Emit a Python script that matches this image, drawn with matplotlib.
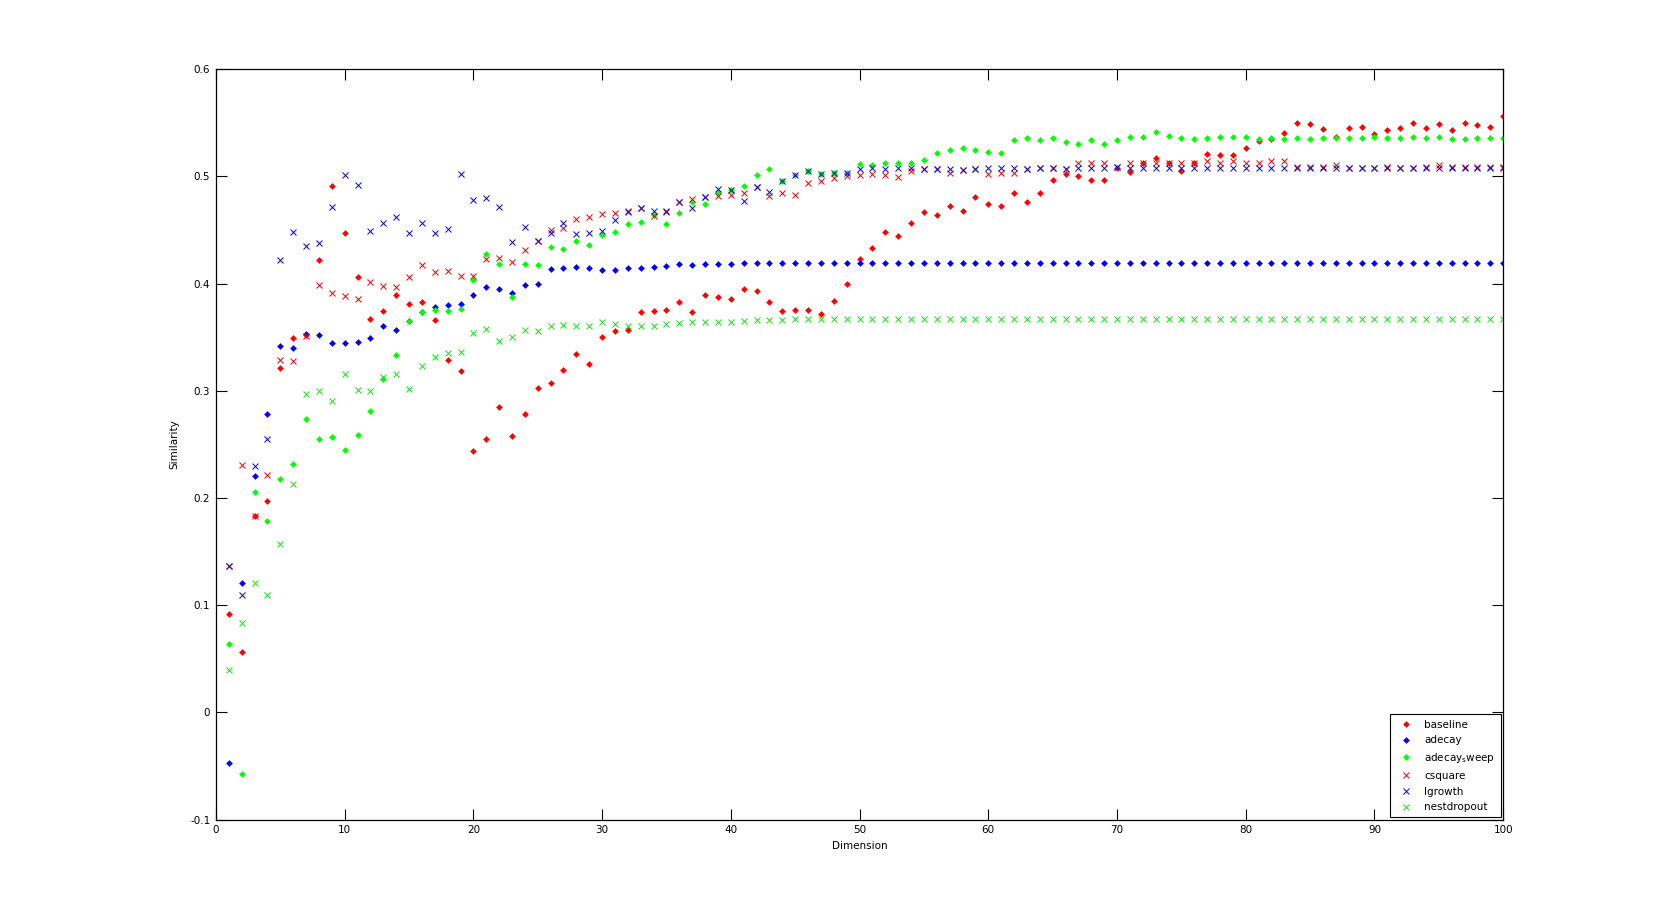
import matplotlib
matplotlib.use("Agg")
import matplotlib.pyplot as plt

dims = list(range(1, 101))

baseline = [0.092, 0.056, 0.183, 0.197, 0.3215, 0.349, 0.352, 0.422, 0.491, 0.447,
            0.406, 0.367, 0.374, 0.389, 0.381, 0.383, 0.366, 0.329, 0.318, 0.244,
            0.255, 0.285, 0.258, 0.278, 0.303, 0.307, 0.319, 0.334, 0.325, 0.350,
            0.356, 0.357, 0.373, 0.374, 0.375, 0.383, 0.373, 0.389, 0.387, 0.386,
            0.395, 0.393, 0.383, 0.374, 0.375, 0.375, 0.372, 0.384, 0.400, 0.423,
            0.433, 0.448, 0.444, 0.456, 0.467, 0.464, 0.472, 0.468, 0.481, 0.474,
            0.472, 0.484, 0.476, 0.484, 0.497, 0.502, 0.500, 0.497, 0.497, 0.508,
            0.504, 0.512, 0.517, 0.512, 0.505, 0.512, 0.521, 0.520, 0.520, 0.526,
            0.533, 0.535, 0.540, 0.550, 0.549, 0.544, 0.537, 0.545, 0.546, 0.539,
            0.543, 0.545, 0.550, 0.545, 0.549, 0.543, 0.550, 0.548, 0.546, 0.556]

adecay = [-0.047, 0.1205, 0.2206, 0.278, 0.342, 0.340, 0.353, 0.352, 0.345, 0.345,
          0.3455, 0.349, 0.3605, 0.357, 0.365, 0.373, 0.378, 0.380, 0.381, 0.3895,
          0.397, 0.395, 0.3914, 0.399, 0.400, 0.4138, 0.4148, 0.4157, 0.4148, 0.4129,
          0.4129, 0.4148, 0.4148, 0.4157, 0.4166, 0.4185, 0.4175, 0.4185, 0.4185, 0.4185,
          0.4194, 0.4194, 0.4194, 0.4194, 0.4194, 0.4194, 0.4194, 0.4194, 0.4194, 0.4194,
          0.4194, 0.4194, 0.4194, 0.4194, 0.4194, 0.4194, 0.4194, 0.4194, 0.4194, 0.4194,
          0.4194, 0.4194, 0.4194, 0.4194, 0.4194, 0.4194, 0.4194, 0.4194, 0.4194, 0.4194,
          0.4194, 0.4194, 0.4194, 0.4194, 0.4194, 0.4194, 0.4194, 0.4194, 0.4194, 0.4194,
          0.4194, 0.4194, 0.4194, 0.4194, 0.4194, 0.4194, 0.4194, 0.4194, 0.4194, 0.4194,
          0.4194, 0.4194, 0.4194, 0.4194, 0.4194, 0.4194, 0.4194, 0.4194, 0.4194, 0.4194]

adecay_sweep = [0.064, -0.057, 0.2056, 0.179, 0.218, 0.232, 0.2735, 0.255, 0.257, 0.245,
                0.259, 0.281, 0.311, 0.333, 0.3655, 0.373, 0.3755, 0.3746, 0.3764, 0.4036,
                0.428, 0.4185, 0.3877, 0.4185, 0.4176, 0.4344, 0.4326, 0.440, 0.4363, 0.4457,
                0.4485, 0.4559, 0.4578, 0.4643, 0.4559, 0.4662, 0.4765, 0.4746, 0.484, 0.4868,
                0.4914, 0.5008, 0.5064, 0.4952, 0.5008, 0.5045, 0.5017, 0.5027, 0.5027, 0.5111,
                0.5101, 0.512, 0.512, 0.512, 0.5149, 0.5214, 0.5242, 0.5261, 0.5242, 0.5223,
                0.5214, 0.5336, 0.5354, 0.5336, 0.5354, 0.5317, 0.5298, 0.5336, 0.5298, 0.5335,
                0.5363, 0.5363, 0.541, 0.5373, 0.5354, 0.5345, 0.5354, 0.5363, 0.5363, 0.5363,
                0.5345, 0.5354, 0.5345, 0.5354, 0.5345, 0.5354, 0.5354, 0.5354, 0.5354, 0.5363,
                0.5354, 0.5354, 0.5363, 0.5354, 0.5363, 0.5345, 0.5345, 0.5354, 0.5354, 0.5354]

csquare = [0.137, 0.231, 0.183, 0.2215, 0.329, 0.328, 0.351, 0.399, 0.391, 0.388,
           0.386, 0.401, 0.398, 0.397, 0.406, 0.4176, 0.411, 0.412, 0.4067, 0.4067,
           0.4232, 0.4241, 0.4204, 0.4316, 0.440, 0.4503, 0.4522, 0.4606, 0.4625, 0.4644,
           0.4662, 0.468, 0.470, 0.4634, 0.467, 0.4765, 0.4793, 0.481, 0.482, 0.483,
           0.484, 0.4896, 0.482, 0.484, 0.483, 0.4933, 0.4952, 0.498, 0.4999, 0.5008,
           0.5017, 0.5008, 0.499, 0.5046, 0.5064, 0.5064, 0.5027, 0.5055, 0.5064, 0.5018,
           0.5027, 0.5027, 0.5064, 0.5074, 0.5074, 0.5064, 0.512, 0.512, 0.512, 0.5083,
           0.512, 0.512, 0.512, 0.512, 0.512, 0.512, 0.514, 0.512, 0.514, 0.512,
           0.512, 0.514, 0.514, 0.509, 0.509, 0.509, 0.5101, 0.508, 0.508, 0.508,
           0.509, 0.508, 0.508, 0.509, 0.5101, 0.509, 0.509, 0.509, 0.509, 0.509]

lgrowth = [0.137, 0.110, 0.230, 0.255, 0.4216, 0.4485, 0.4347, 0.438, 0.471, 0.501,
           0.4915, 0.449, 0.456, 0.4625, 0.4475, 0.456, 0.447, 0.451, 0.502, 0.4775,
           0.480, 0.4718, 0.4391, 0.4531, 0.440, 0.4475, 0.456, 0.4466, 0.4475, 0.4494,
           0.4597, 0.467, 0.470, 0.468, 0.468, 0.4765, 0.4709, 0.481, 0.4886, 0.4868,
           0.4774, 0.4896, 0.4858, 0.4952, 0.5008, 0.5045, 0.5017, 0.5027, 0.5027, 0.5064,
           0.5074, 0.5064, 0.5074, 0.5074, 0.5064, 0.5064, 0.5064, 0.5055, 0.5064, 0.5074,
           0.5074, 0.5074, 0.5064, 0.5074, 0.5074, 0.5064, 0.5074, 0.5073, 0.5073, 0.5083,
           0.5073, 0.5073, 0.5073, 0.5073, 0.5073, 0.5073, 0.5073, 0.5073, 0.5073, 0.5073,
           0.5073, 0.5073, 0.5073, 0.5078, 0.5078, 0.5078, 0.5073, 0.5073, 0.5073, 0.5073,
           0.5078, 0.5073, 0.5073, 0.5078, 0.5073, 0.5078, 0.5078, 0.5078, 0.5078, 0.5078]

nestdropout = [0.040, 0.083, 0.121, 0.110, 0.157, 0.213, 0.297, 0.300, 0.290, 0.316,
               0.301, 0.300, 0.313, 0.316, 0.302, 0.323, 0.3315, 0.3356, 0.3362, 0.354,
               0.3577, 0.3465, 0.3502, 0.3568, 0.3558, 0.3605, 0.3615, 0.3605, 0.3605, 0.3643,
               0.3624, 0.3605, 0.3605, 0.3605, 0.3623, 0.3633, 0.3642, 0.3642, 0.3642, 0.3642,
               0.3652, 0.3661, 0.3661, 0.3661, 0.367, 0.367, 0.367, 0.367, 0.367, 0.367,
               0.367, 0.367, 0.367, 0.367, 0.367, 0.367, 0.367, 0.367, 0.367, 0.367,
               0.367, 0.367, 0.367, 0.367, 0.367, 0.367, 0.367, 0.367, 0.367, 0.367,
               0.367, 0.367, 0.367, 0.367, 0.367, 0.367, 0.367, 0.367, 0.367, 0.367,
               0.367, 0.367, 0.367, 0.367, 0.367, 0.367, 0.367, 0.367, 0.367, 0.367,
               0.367, 0.367, 0.367, 0.367, 0.367, 0.367, 0.367, 0.367, 0.367, 0.367]

series = [
    ("baseline", baseline, "o", "#ff0000"),
    ("adecay", adecay, "o", "#0000ff"),
    (r"adecay$_\mathregular{s}$weep", adecay_sweep, "o", "#00ff00"),
    ("csquare", csquare, "x", "#e01010"),
    ("lgrowth", lgrowth, "x", "#1010d0"),
    ("nestdropout", nestdropout, "x", "#20e020"),
]

x_ticks = [0, 10, 20, 30, 40, 50, 60, 70, 80, 90, 100]
y_ticks = [-0.1, 0, 0.1, 0.2, 0.3, 0.4, 0.5, 0.6]
y_ticklabels = ["-0.1", "0", "0.1", "0.2", "0.3", "0.4", "0.5", "0.6"]

fig = plt.figure(figsize=(16.61, 9.21), dpi=100)
ax = fig.add_axes([0.13, 0.11, 0.775, 0.815])

for label, vals, mk, col in series:
    if mk == "o":
        ax.plot(dims, vals, linestyle="none", marker="D", markersize=3.0,
                markerfacecolor=col, markeredgecolor=col, markeredgewidth=0.4,
                label=label)
    else:
        ax.plot(dims, vals, linestyle="none", marker="x", markersize=5,
                markeredgecolor=col, markeredgewidth=0.75, label=label)

ax.set_xlim(0, 100)
ax.set_ylim(-0.1, 0.6)
ax.set_xticks(x_ticks)
ax.set_yticks(y_ticks)
ax.set_yticklabels(y_ticklabels)
ax.tick_params(direction="in", length=8, width=0.8, labelsize=7.5,
               top=True, right=True, pad=4)
for sp in ax.spines.values():
    sp.set_linewidth(0.9)
    sp.set_color("black")

ax.set_xlabel("Dimension", fontsize=7.5, labelpad=4)
ax.set_ylabel("Similarity", fontsize=7.5, labelpad=8)

leg = ax.legend(loc="lower right", bbox_to_anchor=(0.998, 0.003), fontsize=7.5,
                frameon=True, fancybox=False, edgecolor="black", framealpha=1,
                borderpad=0.5, labelspacing=0.55, handlelength=2.0,
                handletextpad=0.8, borderaxespad=0.0)
leg.get_frame().set_linewidth(0.8)

fig.savefig("out.png", dpi=100, facecolor="white")
